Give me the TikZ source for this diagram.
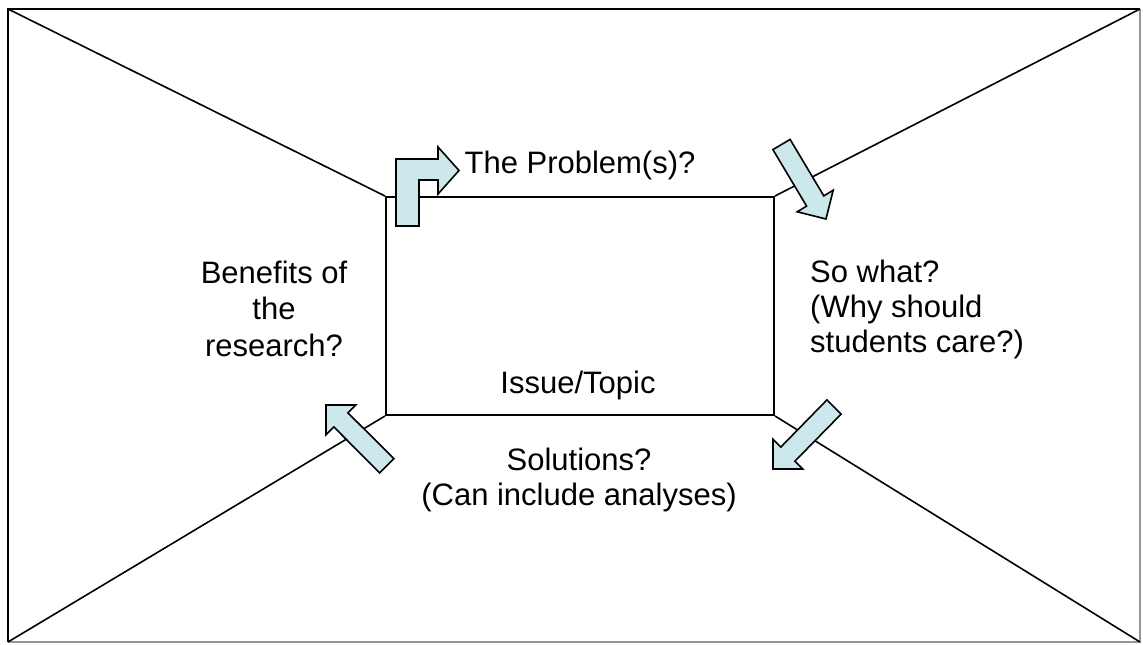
\documentclass[tikz,border=0pt]{standalone}
\usepackage{fontspec}
\setmainfont{Liberation Sans}
\definecolor{arrowfill}{RGB}{205,232,236}
\definecolor{framegray}{RGB}{150,150,150}
\tikzset{
  blockarrow/.style={draw=black, fill=arrowfill, line width=1.6pt, line join=miter},
  diag/.style={draw=black, line width=1.6pt},
  label/.style={inner sep=0pt, font=\fontsize{31}{36.5}\selectfont}
}
\begin{document}
\begin{tikzpicture}[x=1pt,y=-1pt]
\useasboundingbox (0,0) rectangle (1143,645);
\fill[white] (0,0) rectangle (1143,645);
% outer frame corners
\coordinate (otl) at (8,9);
\coordinate (otr) at (1140,9);
\coordinate (obr) at (1140,642);
\coordinate (obl) at (8,642);
\draw[framegray, line width=1.5pt] (otr) -- (obr) -- (obl);
\draw[black, line width=2.8pt] (obl) -- (otl) -- (otr);
% central box
\node[draw=black, line width=2pt, minimum width=388pt, minimum height=218pt,
      inner sep=0pt, anchor=north west] (box) at (385,196) {};
% diagonals
\draw[diag] (otl) -- (box.north west);
\draw[diag] (otr) -- (box.north east);
\draw[diag] (obl) -- (box.south west);
\draw[diag] (obr) -- (box.south east);
% bent arrow (top left)
\draw[blockarrow] (396,226) -- (396,159) -- (438,159) -- (438,147) -- (459,170.5)
  -- (438,194) -- (438,180) -- (419,180) -- (419,226) -- cycle;
% arrow top right (down-right)
\draw[blockarrow] (790.1,139.4) -- (823.8,195.9) -- (833.2,190.2) -- (826,219)
  -- (797.2,211.8) -- (806.6,206.1) -- (772.9,149.6) -- cycle;
% arrow bottom right (down-left)
\draw[blockarrow] (841.1,414.1) -- (794.9,461.2) -- (802.7,469.0) -- (773,469)
  -- (773.0,439.3) -- (780.8,447.1) -- (826.9,399.9) -- cycle;
% arrow bottom left (up-left)
\draw[blockarrow] (393.9,458.7) -- (347.9,412.8) -- (355.7,405.0) -- (326,405)
  -- (326.0,434.7) -- (333.8,426.9) -- (379.7,472.9) -- cycle;
% texts
\node[label, anchor=base] (problem) at (580,173) {The Problem(s)?};
\node[label, anchor=base, align=center] (benefits) at (274,356) {Benefits of\\the\\research?};
\node[label, anchor=base west, align=left, font=\fontsize{31}{35}\selectfont] (sowhat) at (810,352) {So what?\\(Why should\\students care?)};
\node[label, anchor=base] (topic) at (578,393) {Issue/Topic};
\node[label, anchor=base, align=center, font=\fontsize{31}{35}\selectfont] (solutions) at (579,505) {Solutions?\\(Can include analyses)};
\end{tikzpicture}
\end{document}
